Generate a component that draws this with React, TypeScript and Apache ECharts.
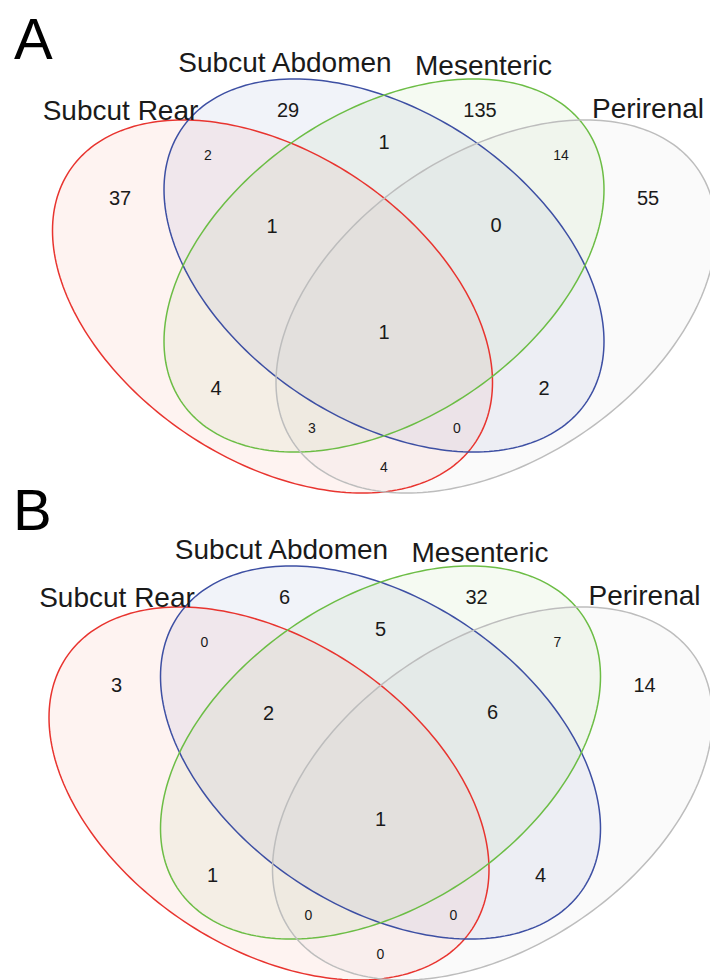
import React, { useEffect, useRef } from 'react';
import * as echarts from 'echarts';

// ---- data ----
const setNames = ['Subcut Rear', 'Subcut Abdomen', 'Mesenteric', 'Perirenal'];
const panelLetters = ['A', 'B'];
// region keys: R = Subcut Rear, A = Subcut Abdomen, M = Mesenteric, P = Perirenal
const regionKeys = ['R', 'A', 'M', 'P', 'RA', 'AM', 'MP', 'RM', 'AP', 'RAM', 'AMP', 'RMP', 'RAP', 'RP', 'RAMP'];
const countsA = [37, 29, 135, 55, 2, 1, 14, 4, 2, 1, 0, 3, 0, 4, 1];
const countsB = [3, 6, 32, 14, 0, 5, 7, 1, 4, 2, 6, 0, 0, 0, 1];
const panelCounts = [countsA, countsB];

// ---- styles / layout ----
const strokeColors = ['#e8342f', '#3d4fa3', '#6cbd45', '#bdbdbd'];
const fillColors = ['#ea5a35', '#3d4fa3', '#6cbd45', '#bdbdbd'];
const FILL_OPACITY = 0.07;
const FONT = '"Liberation Sans", Arial, Helvetica, sans-serif';

const PANEL_OFFSETS = [[0, 0], [-3.5, 487]];
const ELL_W = 220;
const ELL_H = 186.5;
const ELLIPSES = [
  { cx: 272.5, cy: 306.5, p: 16700 },
  { cx: 384, cy: 265.5, p: 16700 },
  { cx: 384, cy: 265.5, p: -16700 },
  { cx: 496, cy: 306.5, p: -16700 },
];
const REGION_POS: Record<string, [number, number, number]> = {
  R: [120, 198, 0],
  A: [288, 110, 0],
  M: [480, 110, 0],
  P: [648, 198, 0],
  RA: [208, 155, 1],
  AM: [384, 142, 0],
  MP: [561, 155, 1],
  RM: [216, 388, 0],
  AP: [544, 388, 0],
  RAM: [272, 226, 0],
  AMP: [496, 225, 0],
  RMP: [312, 428, 1],
  RAP: [457, 428, 1],
  RP: [384, 467, 1],
  RAMP: [384, 332, 0],
};
const SET_LABEL_POS = [[120.5, 110], [285, 62], [483.5, 65.5], [648, 108.5]];
const LETTER_POS = [[14, 38], [13, 509]];

function ellipsePoints(api: any, panel: number, setIdx: number) {
  const e = ELLIPSES[setIdx];
  const [ox, oy] = PANEL_OFFSETS[panel];
  const k = e.p / ELL_W;
  const m = Math.sqrt(ELL_H * ELL_H - k * k);
  const pts: number[][] = [];
  const N = 240;
  for (let i = 0; i < N; i++) {
    const t = (i / N) * Math.PI * 2;
    const dx = ELL_W * Math.cos(t);
    const dy = k * Math.cos(t) + m * Math.sin(t);
    pts.push(api.coord([e.cx + ox + dx, e.cy + oy + dy]));
  }
  return pts;
}

export default function App() {
  const ref = useRef<HTMLDivElement>(null);
  useEffect(() => {
    document.body.style.margin = '0';
    if (!ref.current) return;
    const chart = echarts.init(ref.current, undefined, { renderer: 'svg' });

    const ellipseData: number[][] = [];
    for (let p = 0; p < 2; p++) for (let s = 0; s < 4; s++) ellipseData.push([p, s]);

    const countData: number[][] = [];
    for (let p = 0; p < 2; p++)
      regionKeys.forEach((k, i) => countData.push([p, i, panelCounts[p][i]]));

    const labelData: number[][] = [];
    for (let p = 0; p < 2; p++) for (let s = 0; s < 4; s++) labelData.push([p, s]);

    chart.setOption({
      animation: false,
      grid: { left: 0, right: 0, top: 0, bottom: 0 },
      xAxis: { type: 'value', min: 0, max: 710, show: false },
      yAxis: { type: 'value', min: 0, max: 980, inverse: true, show: false },
      graphic: panelLetters.map((L, i) => ({
        type: 'text',
        x: LETTER_POS[i][0],
        y: LETTER_POS[i][1],
        style: {
          text: L,
          fontSize: 58,
          fontFamily: FONT,
          fill: '#000',
          align: 'left',
          verticalAlign: 'middle',
        },
      })),
      series: [
        {
          type: 'custom',
          name: 'fills',
          coordinateSystem: 'cartesian2d',
          clip: false,
          silent: true,
          data: ellipseData,
          renderItem: (params: any, api: any) => {
            const panel = api.value(0);
            const s = api.value(1);
            return {
              type: 'polygon',
              shape: { points: ellipsePoints(api, panel, s) },
              style: { fill: fillColors[s], opacity: FILL_OPACITY, stroke: 'none' },
            };
          },
        },
        {
          type: 'custom',
          name: 'outlines',
          coordinateSystem: 'cartesian2d',
          clip: false,
          silent: true,
          data: ellipseData,
          renderItem: (params: any, api: any) => {
            const panel = api.value(0);
            const s = api.value(1);
            return {
              type: 'polygon',
              shape: { points: ellipsePoints(api, panel, s) },
              style: { fill: 'none', stroke: strokeColors[s], lineWidth: 1.5 },
            };
          },
        },
        {
          type: 'custom',
          name: 'counts',
          coordinateSystem: 'cartesian2d',
          clip: false,
          silent: true,
          data: countData,
          renderItem: (params: any, api: any) => {
            const panel = api.value(0);
            const r = api.value(1);
            const v = api.value(2);
            const pos = REGION_POS[regionKeys[r]];
            const [ox, oy] = PANEL_OFFSETS[panel];
            const pt = api.coord([pos[0] + ox, pos[1] + oy]);
            return {
              type: 'text',
              x: pt[0],
              y: pt[1],
              style: {
                text: String(v),
                fontSize: pos[2] ? 14 : 20,
                fontFamily: FONT,
                fill: '#1a1a1a',
                align: 'center',
                verticalAlign: 'middle',
              },
            };
          },
        },
        {
          type: 'custom',
          name: 'setLabels',
          coordinateSystem: 'cartesian2d',
          clip: false,
          silent: true,
          data: labelData,
          renderItem: (params: any, api: any) => {
            const panel = api.value(0);
            const s = api.value(1);
            const [ox, oy] = PANEL_OFFSETS[panel];
            const pt = api.coord([SET_LABEL_POS[s][0] + ox, SET_LABEL_POS[s][1] + oy]);
            return {
              type: 'text',
              x: pt[0],
              y: pt[1],
              style: {
                text: setNames[s],
                fontSize: 28,
                fontFamily: FONT,
                fill: '#1a1a1a',
                align: 'center',
                verticalAlign: 'middle',
              },
            };
          },
        },
      ],
    });
    return () => chart.dispose();
  }, []);
  return <div ref={ref} style={{ width: 710, height: 980 }} />;
}
